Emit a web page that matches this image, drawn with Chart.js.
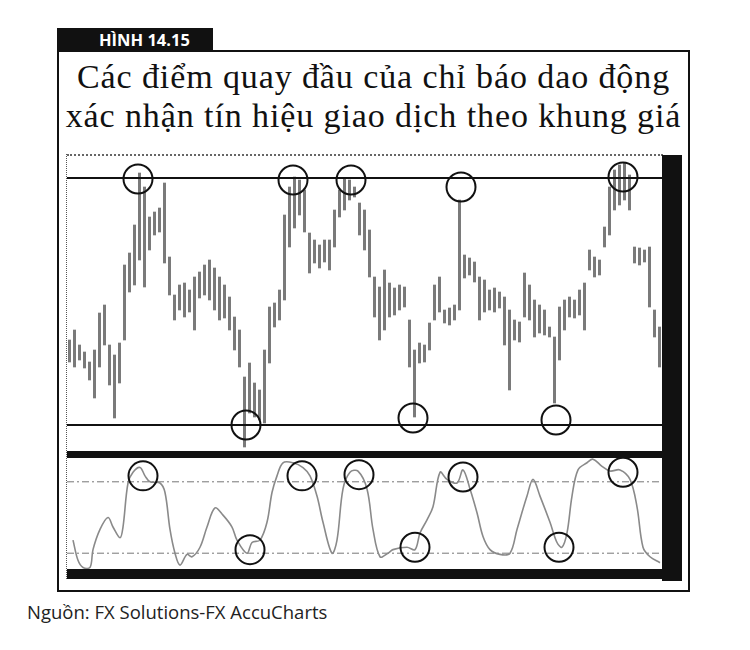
<!DOCTYPE html>
<html>
<head>
<meta charset="utf-8">
<script src="https://cdn.jsdelivr.net/npm/chart.js@4.4.0/dist/chart.umd.min.js"></script>
<style>
  html, body { margin: 0; padding: 0; background: #fff; }
  body { width: 750px; height: 650px; position: relative; overflow: hidden; }
  .abs { position: absolute; }
  #label { left: 57px; top: 28px; width: 156px; height: 23px; background: #111; color: #fff;
    font-family: "Open Sans", sans-serif; font-weight: 700; font-size: 16.5px; line-height: 23px;
    box-sizing: border-box; padding-left: 42px; }
  #frame { left: 57px; top: 50px; width: 633px; height: 542px; border: 2px solid #111; box-sizing: border-box; }
  #title { left: 57px; top: 57px; width: 633px; text-align: center; font-family: "Liberation Serif", "DejaVu Serif", serif;
    font-size: 34px; line-height: 39px; letter-spacing: 0.9px; color: #111; }
  #source { left: 27px; top: 599px; font-family: "Open Sans", sans-serif; font-size: 18.5px; color: #222; }
  #chartTopLine { left: 67px; top: 154px; width: 596px; height: 0; border-top: 2px dotted #666; }
  #chartLeftLine { left: 66px; top: 154px; width: 0; height: 425px; border-left: 1px dotted #555; }
  #rightBar { left: 662px; top: 155px; width: 20px; height: 426px; background: #111; }
  #sepBar { left: 67px; top: 451px; width: 596px; height: 7px; background: #111; }
  #bottomBar { left: 67px; top: 569px; width: 596px; height: 10px; background: #111; }
  canvas { position: absolute; }
</style>
</head>
<body>
<div id="frame" class="abs"></div>
<div id="label" class="abs">HÌNH 14.15</div>
<div id="title" class="abs">Các điểm quay đầu của chỉ báo dao động<br>xác nhận tín hiệu giao dịch theo khung giá</div>
<div id="chartTopLine" class="abs"></div>
<div id="chartLeftLine" class="abs"></div>
<canvas id="priceChart" width="595" height="295" style="left:67px; top:155px;"></canvas>
<canvas id="oscChart" width="595" height="119" style="left:67px; top:458px;"></canvas>
<div id="rightBar" class="abs"></div>
<div id="sepBar" class="abs"></div>
<div id="bottomBar" class="abs"></div>
<div id="source" class="abs">Nguồn: FX Solutions-FX AccuCharts</div>

<script>
// ---- Price panel data (bar index, high, low in price points) ----
const barHigh = [120,130,115,108,98,110,147,155,115,105,117,195,207,235,287,273,243,248,252,277,
  203,165,175,177,170,183,188,195,200,192,183,175,163,143,130,83,97,77,70,110,
  153,157,170,245,273,283,280,270,227,220,215,220,220,250,270,282,280,273,257,250,
  230,183,173,190,177,172,175,173,140,110,117,115,137,175,183,150,152,155,260,205,
  202,198,183,180,170,172,168,163,150,140,138,187,175,160,155,150,133,123,153,160,
  163,160,170,177,210,203,200,233,273,290,295,297,285,213,212,210,213,150,133];
const barLow = [98,93,100,92,80,62,93,115,75,42,77,120,168,175,200,173,210,225,228,197,
  165,140,150,143,148,130,162,165,160,150,140,142,130,110,93,13,47,43,40,37,
  97,133,140,160,213,232,245,228,187,197,192,198,190,213,243,250,260,263,225,210,
  183,143,120,130,143,145,150,153,93,43,97,98,110,140,148,137,135,140,150,182,
  185,178,140,148,150,148,152,115,70,120,118,143,140,123,127,125,123,57,100,130,
  143,142,145,130,190,183,185,213,225,250,255,260,250,197,195,198,153,123,93];
const resistanceLevel = 282;
const supportLevel = 35;
const priceTurnX = [13.7, 35.3, 44.7, 56.3, 68.7, 78.3, 97.3, 110.7];
const priceTurnY = [281, 35, 280, 280, 42, 273, 40, 283];

// ---- Oscillator panel data ----
const oscX = [0.7,1.7,2.7,4.1,4.7,6.1,7.7,8.7,10.1,10.7,
  11.7,12.7,14.1,15.1,16.1,18.1,19.1,20.1,21.1,22.1,
  23.5,24.5,26.1,27.5,29.1,30.7,32.5,33.5,35.5,36.5,
  38.1,39.5,40.5,41.5,42.7,44.7,46.7,48.1,49.5,50.7,
  52.5,53.5,54.7,56.1,57.7,59.5,60.7,62.1,63.7,64.7,
  67.5,69.1,70.1,71.5,72.7,74.1,75.5,77.5,78.7,80.1,
  81.5,82.7,84.1,86.1,88.1,89.5,91.5,92.7,94.1,96.1,
  97.5,98.5,99.5,100.5,101.7,103.5,104.7,106.5,108.1,110.1,
  112.1,113.5,114.7,116.1,118.1];
const oscY = [31,14,8,8,23,40,50,42,33,42,
  79,88,92,85,80,79,71,40,20,10,
  19,17,25,42,58,52,42,31,20,29,
  31,46,71,85,96,96,92,85,68,46,
  20,31,74,88,89,74,40,17,20,23,
  25,23,37,48,59,88,82,79,90,74,
  54,34,23,19,20,40,68,82,68,46,
  29,25,37,68,90,96,99,93,89,90,
  82,59,25,17,12];
const overbought = 80;
const oversold = 20;
const oscTurnX = [14.7, 36.1, 46.5, 57.9, 69.1, 78.7, 97.9, 110.7];
const oscTurnY = [85, 23, 85, 86, 25, 84, 25, 88];

const nBars = barHigh.length;
const xMin = -0.5, xMax = nBars - 0.5;

const priceBars = barHigh.map((h, i) => ({ x: i, y: [barLow[i], h] }));
const levelLine = (v) => [{ x: xMin, y: v }, { x: xMax, y: v }];
const turns = (xs, ys) => xs.map((x, i) => ({ x: x, y: ys[i] }));

const hiddenScales = (yMin, yMax) => ({
  x: { type: 'linear', min: xMin, max: xMax, display: false, offset: false },
  y: { type: 'linear', min: yMin, max: yMax, display: false }
});
const common = {
  responsive: false, animation: false, devicePixelRatio: 1,
  layout: { padding: 0, autoPadding: false },
  plugins: { legend: { display: false }, tooltip: { enabled: false }, title: { display: false } },
  events: []
};
const circleDs = (data) => ({
  type: 'scatter', data: data, pointStyle: 'circle', pointRadius: 14.5,
  pointBorderWidth: 2, pointBorderColor: '#111', pointBackgroundColor: 'rgba(0,0,0,0)',
  clip: false, order: 0
});

new Chart(document.getElementById('priceChart'), {
  type: 'bar',
  data: {
    datasets: [
      { type: 'bar', data: priceBars, backgroundColor: '#7a7a7a', borderWidth: 0,
        barThickness: 2.4, grouped: false, order: 3 },
      { type: 'line', data: levelLine(resistanceLevel), borderColor: '#111', borderWidth: 2,
        pointRadius: 0, order: 1 },
      { type: 'line', data: levelLine(supportLevel), borderColor: '#111', borderWidth: 2,
        pointRadius: 0, order: 1 },
      circleDs(turns(priceTurnX, priceTurnY))
    ]
  },
  options: Object.assign({}, common, { scales: hiddenScales(10, 305) })
});

new Chart(document.getElementById('oscChart'), {
  type: 'line',
  data: {
    datasets: [
      { data: turns(oscX, oscY), borderColor: '#8a8a8a', borderWidth: 1.6, pointRadius: 0,
        tension: 0.35, order: 2 },
      { data: levelLine(overbought), borderColor: '#777', borderWidth: 1, borderDash: [7, 3, 2, 3],
        pointRadius: 0, order: 3 },
      { data: levelLine(oversold), borderColor: '#777', borderWidth: 1, borderDash: [7, 3, 2, 3],
        pointRadius: 0, order: 3 },
      circleDs(turns(oscTurnX, oscTurnY))
    ]
  },
  options: Object.assign({}, common, { scales: hiddenScales(0, 100) })
});
</script>
</body>
</html>
